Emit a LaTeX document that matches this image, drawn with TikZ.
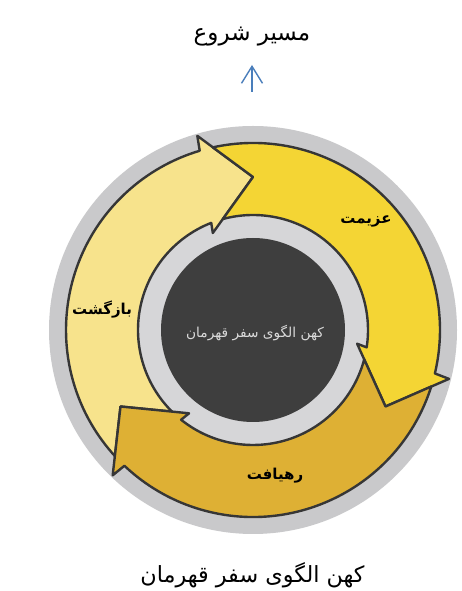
\documentclass[tikz,border=0pt]{standalone}
\usepackage{fontspec}
\usetikzlibrary{arrows.meta}
\TeXXeTstate=1
\newfontfamily\arabicfont[Script=Arabic]{DejaVu Sans}
\definecolor{outergray}{HTML}{C9C9CB}
\definecolor{innergray}{HTML}{D6D6D8}
\definecolor{hubdark}{HTML}{3E3E3E}
\definecolor{edgedark}{HTML}{363636}
\definecolor{paleyellow}{HTML}{F7E38C}
\definecolor{brightyellow}{HTML}{F4D534}
\definecolor{goldyellow}{HTML}{DEB034}
\definecolor{pathblue}{HTML}{4A7EBB}
\definecolor{hubtext}{HTML}{DADADA}
\begin{document}
\begin{tikzpicture}[x=1pt,y=1pt,
  ringarrow/.style={draw=edgedark, line width=2.4pt, line join=round},
  stagelabel/.style={font=\arabicfont\bfseries\fontsize{15}{17}\selectfont, text=black, inner sep=0pt},
  hublabel/.style={font=\arabicfont\fontsize{13.7}{16}\selectfont, text=hubtext, inner sep=0pt},
  titlelabel/.style={font=\arabicfont\fontsize{23}{26}\selectfont, text=black, inner sep=0pt},
  captionlabel/.style={font=\arabicfont\fontsize{22.3}{25}\selectfont, text=black, inner sep=0pt}]
\fill[white] (0,0) rectangle (461,591);
\useasboundingbox (0,0) rectangle (461,591);
\begin{scope}[shift={(253,261)}]
  \fill[outergray] (0,0) circle[radius=204];
  \fill[innergray] (0,0) circle[radius=116];
  \fill[hubdark] (0,0) circle[radius=92];
  % return arrow (pale)
  \draw[ringarrow, fill=paleyellow] (222.4:187) arc[start angle=222.4, end angle=106.56, radius=187]
    -- (106:202) -- (90:153) -- (112.5:105) -- (111.3:115)
    arc[start angle=111.3, end angle=225.2, radius=115] -- (210:153) -- cycle;
  % departure arrow (bright)
  \draw[ringarrow, fill=brightyellow] (102.4:187) arc[start angle=102.4, end angle=-13.44, radius=187]
    -- (-14:202) -- (-30:153) -- (-7.5:105) -- (-8.7:115)
    arc[start angle=-8.7, end angle=105.2, radius=115] -- (90:153) -- cycle;
  % approach arrow (gold)
  \draw[ringarrow, fill=goldyellow] (-17.6:187) arc[start angle=-17.6, end angle=-133.44, radius=187]
    -- (-134:202) -- (-150:153) -- (-127.5:105) -- (-128.7:115)
    arc[start angle=-128.7, end angle=-14.8, radius=115] -- (-30:153) -- cycle;
\end{scope}
\node[hublabel] (hub) at (255,258) {\beginR کهن الگوی سفر قهرمان\endR};
\node[stagelabel] (depart) at (366,369.5) {\beginR عزیمت\endR};
\node[stagelabel] (return) at (102,281) {\beginR بازگشت\endR};
\node[stagelabel] (approach) at (275,115) {\beginR رهیافت\endR};
\node[titlelabel] (title) at (252,554) {\beginR مسیر شروع\endR};
\node[captionlabel] (caption) at (252.5,16) {\beginR کهن الگوی سفر قهرمان\endR};
\coordinate (arrowbase) at (252,499);
\coordinate (arrowtip) at (252,526);
\draw[pathblue, line width=1.4pt, -{Straight Barb[length=17pt,width=21pt,line width=1.4pt]}] (arrowbase) -- (arrowtip);
\end{tikzpicture}
\end{document}
